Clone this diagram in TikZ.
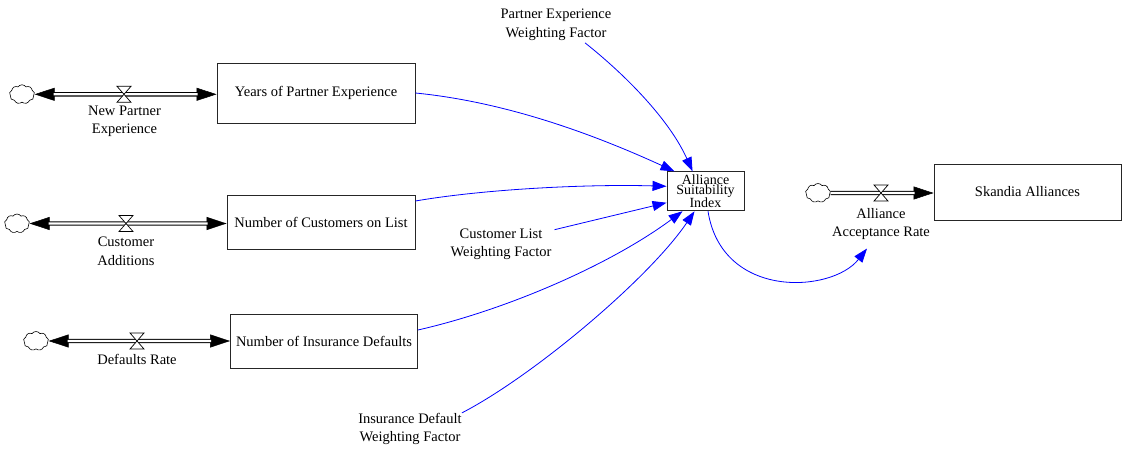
\documentclass[tikz,border=0pt]{standalone}
\usepackage{fontspec}
\setmainfont{Liberation Serif}
\usetikzlibrary{arrows.meta,shapes.symbols,calc}
\begin{document}
\begin{tikzpicture}[x=1pt,y=-1pt,
  every node/.style={font=\fontsize{14.5}{18.5}\selectfont},
  stock/.style={draw=black!85, line width=0.9pt, fill=white, inner sep=0pt, align=center},
  txt/.style={align=center, inner sep=0pt},
  sourcecloud/.style={cloud, cloud puffs=9, cloud puff arc=110, draw, line width=0.6pt,
    minimum width=25pt, minimum height=19pt, inner sep=0pt, fill=white},
  pipe/.style={draw=black, line width=1.1pt, double=white, double distance=2.2pt},
  pipetip/.style={line width=0.5pt, -{Triangle[length=20pt,width=13pt]}},
  link/.style={draw=blue, line width=0.8pt, -{Triangle[length=14pt,width=10pt]}},
  valve/.pic={\draw[line width=0.7pt, fill=white] (-7pt,-8pt) -- (7pt,-8pt) -- (-7pt,8pt) -- (7pt,8pt) -- cycle;}
]
\useasboundingbox (0,0) rectangle (1122,452);

% stocks
\node[stock, minimum width=198pt, minimum height=60pt] (s1) at (316,93) {Years of Partner Experience};
\node[stock, minimum width=188pt, minimum height=54pt] (s2) at (321,222) {Number of Customers on List};
\node[stock, minimum width=187pt, minimum height=54pt] (s3) at (324,341) {Number of Insurance Defaults};
\node[stock, minimum width=187pt, minimum height=56pt] (s4) at (1027.5,192) {Skandia Alliances};
\node[stock, minimum width=77pt, minimum height=39pt, font=\fontsize{14}{10}\selectfont] (asi) at (705.5,191.3) {Alliance\\Suitability\\Index};

% sources / sinks
\node[sourcecloud] (c1) at (22,94.3) {};
\node[sourcecloud] (c2) at (17,223.5) {};
\node[sourcecloud] (c3) at (36,341) {};
\node[sourcecloud] (c4) at (818,193) {};

% valve positions
\coordinate (v1) at (124,94.3);
\coordinate (v2) at (126,223.5);
\coordinate (v3) at (137,341);
\coordinate (v4) at (881,193);

% flow pipes
\draw[pipetip] (v1) -- (c1.east);
\draw[pipetip] (v1) -- (s1.west |- v1);
\draw[pipe, shorten <=19pt, shorten >=19pt] (c1.east) -- (s1.west |- c1);

\draw[pipetip] (v2) -- (c2.east);
\draw[pipetip] (v2) -- (s2.west |- v2);
\draw[pipe, shorten <=19pt, shorten >=19pt] (c2.east) -- (s2.west |- c2);

\draw[pipetip] (v3) -- (c3.east);
\draw[pipetip] (v3) -- (s3.west |- v3);
\draw[pipe, shorten <=19pt, shorten >=19pt] (c3.east) -- (s3.west |- c3);

\draw[pipetip] (v4) -- (s4.west |- v4);
\draw[pipe, shorten >=19pt] (c4.east) -- (s4.west |- c4);

\pic at (v1) {valve};
\pic at (v2) {valve};
\pic at (v3) {valve};
\pic at (v4) {valve};

% flow and auxiliary names
\node[txt] (n1) at (124.5,121.5) {New Partner\\Experience};
\node[txt] (n2) at (126,251.5) {Customer\\Additions};
\node[txt] (n3) at (137,359) {Defaults Rate};
\node[txt] (n4) at (881,224) {Alliance\\Acceptance Rate};
\node[txt] (pw) at (556,25) {Partner Experience\\Weighting Factor};
\node[txt] (cw) at (501,244.5) {Customer List\\Weighting Factor};
\node[txt] (iw) at (410,429) {Insurance Default\\Weighting Factor};

% causal links
\draw[link] (s1.east) .. controls (506,102) and (593,134) .. ([xshift=8pt]asi.north west);
\draw[link] ([xshift=29pt,yshift=-2pt]pw.south) .. controls (628,77) and (670,121) .. ([xshift=26pt]asi.north west);
\draw[link] ([yshift=21pt]s2.east) .. controls (485,189) and (588,184) .. ([yshift=5pt]asi.west);
\draw[link] ([xshift=3pt,yshift=-1pt]cw.north east) -- ([yshift=-11.4pt]asi.west);
\draw[link] ([yshift=11pt]s3.east) .. controls (506,310) and (610,265) .. ([xshift=16pt]asi.south west);
\draw[link] (iw.north east) .. controls (534,375.5) and (649,278.5) .. ([xshift=28pt]asi.south west);
\draw[link] ([xshift=2.5pt]asi.south) .. controls (722,300) and (832,293) .. ([xshift=-14pt,yshift=-8.5pt]n4.south);
\end{tikzpicture}
\end{document}
